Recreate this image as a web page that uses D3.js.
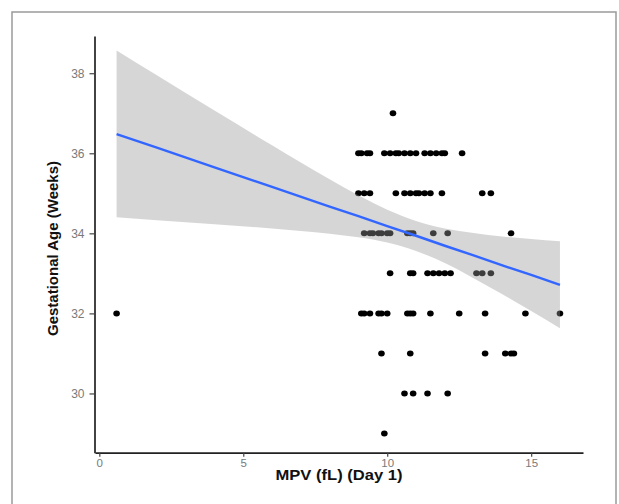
<!DOCTYPE html>
<html>
<head>
<meta charset="utf-8">
<script src="https://cdn.jsdelivr.net/npm/d3@7"></script>
<style>
  body { margin: 0; background: #fff; }
  text { font-family: "Liberation Sans", Arial, sans-serif; }
</style>
</head>
<body>
<svg id="chart" width="619" height="504"></svg>
<script>
// MPV (fL) values, grouped by gestational age (weeks)
var ga_37 = [10.2];
var ga_36 = [9.0, 9.1, 9.3, 9.4, 9.9, 10.1, 10.3, 10.4, 10.6, 10.8, 11.0, 11.3, 11.5, 11.7, 11.9, 12.0, 12.6];
var ga_35 = [9.0, 9.2, 9.4, 10.3, 10.6, 10.8, 11.0, 11.1, 11.3, 11.5, 11.9, 13.3, 13.6];
var ga_34 = [9.2, 9.4, 9.5, 9.7, 9.8, 10.0, 10.1, 10.7, 10.8, 10.9, 11.6, 12.1, 14.3];
var ga_33 = [10.1, 10.8, 10.9, 11.4, 11.6, 11.8, 12.0, 12.2, 13.1, 13.3, 13.6];
var ga_32 = [0.6, 9.1, 9.2, 9.4, 9.7, 9.8, 10.0, 10.7, 10.8, 10.9, 11.5, 12.5, 13.4, 14.8, 16.0];
var ga_31 = [9.8, 10.8, 13.4, 14.1, 14.3, 14.4];
var ga_30 = [10.6, 10.9, 11.4, 12.1];
var ga_29 = [9.9];

// lm smoother and its 95% band
var fit_x   = [0.6, 2, 4, 6, 8, 9, 10, 11, 12, 13, 14, 15, 16];
var fit_y   = [36.48, 36.14, 35.65, 35.16, 34.67, 34.43, 34.18, 33.94, 33.69, 33.45, 33.20, 32.96, 32.71];
var band_lo = [34.40, 34.33, 34.23, 34.12, 33.99, 33.90, 33.77, 33.56, 33.26, 32.88, 32.48, 32.06, 31.63];
var band_hi = [38.57, 37.95, 37.07, 36.20, 35.35, 34.95, 34.59, 34.31, 34.12, 34.01, 33.92, 33.86, 33.80];

var x_ticks = [0, 5, 10, 15];
var y_ticks = [30, 32, 34, 36, 38];

var groups = [[37, ga_37], [36, ga_36], [35, ga_35], [34, ga_34], [33, ga_33],
              [32, ga_32], [31, ga_31], [30, ga_30], [29, ga_29]];

var points = [];
groups.forEach(function(g){
	g[1].forEach(function(v){ points.push({x: v, y: g[0]}); });
});

var smooth = fit_x.map(function(v, i){
	return {x: v, y: fit_y[i], lo: band_lo[i], hi: band_hi[i]};
});

var svg = d3.select("#chart");

svg.append("rect")
	.attr("x", 12).attr("y", 12)
	.attr("width", 604).attr("height", 500)
	.attr("fill", "none")
	.attr("stroke", "#9a9a9a")
	.attr("stroke-width", 1.5);

var x = d3.scaleLinear().domain([-0.15, 16.8]).range([95, 583]);
var y = d3.scaleLinear().domain([28.52, 38.93]).range([452.7, 36]);

// points first, the ribbon goes over them
svg.append("g")
	.selectAll("ellipse")
	.data(points)
	.enter().append("ellipse")
	.attr("cx", function(d){ return x(d.x); })
	.attr("cy", function(d){ return y(d.y); })
	.attr("rx", 3.3)
	.attr("ry", 3)
	.attr("fill", "#000");

svg.append("path")
	.datum(smooth)
	.attr("d", d3.area()
		.curve(d3.curveMonotoneX)
		.x(function(d){ return x(d.x); })
		.y0(function(d){ return y(d.lo); })
		.y1(function(d){ return y(d.hi); }))
	.attr("fill", "#999999")
	.attr("fill-opacity", 0.4);

svg.append("path")
	.datum(smooth)
	.attr("d", d3.line()
		.x(function(d){ return x(d.x); })
		.y(function(d){ return y(d.y); }))
	.attr("fill", "none")
	.attr("stroke", "#3366ff")
	.attr("stroke-width", 2.4);

/* axes */
var xAxis = svg.append("g")
	.attr("transform", "translate(0,452.7)")
	.call(d3.axisBottom(x).tickValues(x_ticks).tickSize(4).tickPadding(2).tickSizeOuter(0));
var yAxis = svg.append("g")
	.attr("transform", "translate(94.5,0)")
	.call(d3.axisLeft(y).tickValues(y_ticks).tickSize(5).tickPadding(5).tickSizeOuter(0));

[xAxis, yAxis].forEach(function(ax){
	ax.select(".domain").attr("stroke", "#222").attr("stroke-width", 1.7);
	ax.selectAll(".tick line").attr("stroke", "#444").attr("stroke-width", 1.2);
	ax.selectAll(".tick text")
		.attr("fill", "#7a7a7a")
		.style("font-size", "11.5px")
		.style("font-family", "Liberation Sans, Arial, sans-serif");
});
yAxis.selectAll(".tick text").style("font-size", "12px");

svg.append("text")
	.attr("x", 339).attr("y", 480)
	.attr("text-anchor", "middle")
	.attr("textLength", 127)
	.attr("lengthAdjust", "spacingAndGlyphs")
	.style("font-size", "14.5px")
	.style("font-weight", "bold")
	.attr("fill", "#111")
	.text("MPV (fL) (Day 1)");

svg.append("text")
	.attr("transform", "translate(58,248.5) rotate(-90)")
	.attr("text-anchor", "middle")
	.style("font-size", "15px")
	.style("font-weight", "bold")
	.attr("fill", "#111")
	.text("Gestational Age (Weeks)");
</script>
</body>
</html>
